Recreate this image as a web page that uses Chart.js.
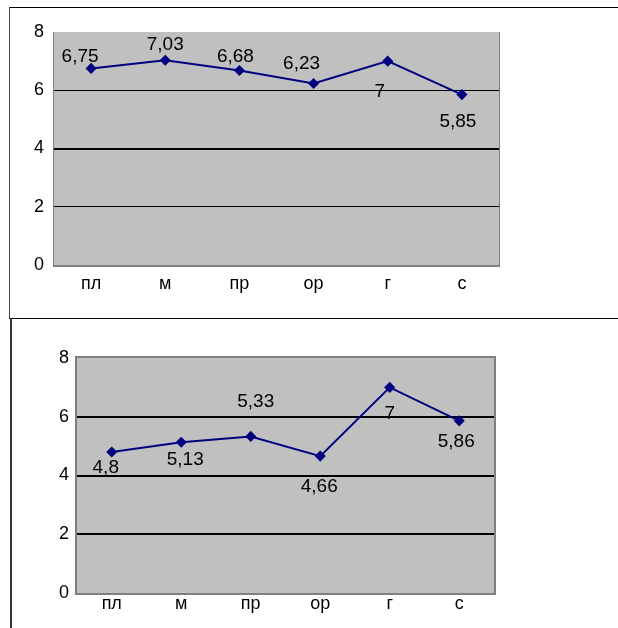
<!DOCTYPE html>
<html>
<head>
<meta charset="utf-8">
<script src="https://cdn.jsdelivr.net/npm/chart.js@4/dist/chart.umd.min.js"></script>
<style>
  html, body { margin: 0; padding: 0; background: #fff; width: 618px; height: 628px; overflow: hidden; }
  .frame { position: absolute; box-sizing: border-box; }
  #f1 { left: 9px; top: 7px; width: 700px; height: 312px; border-top: 1px solid #000; border-left: 1px solid #444; border-bottom: 1px solid #000; }
  #f2 { left: 10px; top: 318px; width: 700px; height: 400px; border-left: 2px solid #333; }
  canvas { position: absolute; left: 0; }
  #c1 { top: 0; }
  #c2 { top: 318px; }
</style>
</head>
<body>
<div class="frame" id="f1"></div>
<div class="frame" id="f2"></div>
<canvas id="c1" width="618" height="318"></canvas>
<canvas id="c2" width="618" height="310"></canvas>
<script>
// ---- data ----
const categories = ['пл', 'м', 'пр', 'ор', 'г', 'с'];
const valuesTop = [6.75, 7.03, 6.68, 6.23, 7, 5.85];
const valuesBottom = [4.8, 5.13, 5.33, 4.66, 7, 5.86];
const yTicks = [0, 2, 4, 6, 8];

// ---- label placement (style only) ----
const labelOffsetsTop = [[-11, -12], [0, -15], [-4, -14], [-12, -20], [-8, 31], [-4, 27]];
const labelOffsetsBottom = [[-6, 16], [4, 17], [5, -35], [-1, 31], [0, 26], [-3, 21]];

const plotFrame = {
  id: 'plotFrame',
  beforeDraw(chart, args, opts) {
    const { ctx, chartArea: a } = chart;
    ctx.save();
    ctx.fillStyle = opts.fill;
    ctx.fillRect(a.left, a.top, a.right - a.left, a.bottom - a.top);
    ctx.restore();
  },
  beforeDatasetsDraw(chart, args, opts) {
    const { ctx, chartArea: a } = chart;
    ctx.save();
    ctx.strokeStyle = opts.color;
    (opts.sides || []).forEach(([side, w]) => {
      ctx.lineWidth = w;
      ctx.beginPath();
      const h = w / 2;
      if (side === 'left') { ctx.moveTo(a.left - h, a.top - (opts.topW || 0)); ctx.lineTo(a.left - h, a.bottom + 2); }
      if (side === 'right') { ctx.moveTo(a.right + h, a.top - (opts.topW || 0)); ctx.lineTo(a.right + h, a.bottom + 2); }
      if (side === 'top') { ctx.moveTo(a.left - 1, a.top - h); ctx.lineTo(a.right + 1, a.top - h); }
      if (side === 'bottom') { ctx.moveTo(a.left - 1, a.bottom + h); ctx.lineTo(a.right + 1, a.bottom + h); }
      ctx.stroke();
    });
    ctx.restore();
  }
};

const valueLabels = {
  id: 'valueLabels',
  afterDatasetsDraw(chart, args, opts) {
    const { ctx } = chart;
    const meta = chart.getDatasetMeta(0);
    const data = chart.data.datasets[0].data;
    ctx.save();
    ctx.fillStyle = '#000';
    ctx.font = opts.font;
    ctx.textAlign = 'center';
    ctx.textBaseline = 'middle';
    meta.data.forEach((pt, i) => {
      const [dx, dy] = opts.offsets[i];
      ctx.fillText(String(data[i]).replace('.', ','), pt.x + dx, pt.y + dy);
    });
    ctx.restore();
  }
};

function makeChart(id, values, cfg) {
  return new Chart(document.getElementById(id), {
    type: 'line',
    data: {
      labels: categories,
      datasets: [{
        data: values,
        borderColor: '#000080',
        backgroundColor: '#000080',
        borderWidth: 2,
        tension: 0,
        pointStyle: 'rectRot',
        pointRadius: 4.5,
        pointBorderWidth: 1.5,
        pointBackgroundColor: '#000080',
        pointBorderColor: '#000080'
      }]
    },
    options: {
      responsive: false,
      animation: false,
      devicePixelRatio: 1,
      layout: { padding: { left: 0, top: cfg.top, right: cfg.right, bottom: 0 } },
      plugins: {
        legend: { display: false },
        tooltip: { enabled: false },
        plotFrame: cfg.frame,
        valueLabels: { offsets: cfg.offsets, font: '19px "Liberation Sans", Arial, sans-serif' }
      },
      scales: {
        x: {
          offset: true,
          grid: { display: false, drawTicks: false },
          border: { display: false },
          ticks: { color: '#000', padding: cfg.xPad, font: { family: '"Liberation Sans", Arial, sans-serif', size: 18 } },
          afterFit(s) { s.height = cfg.xHeight; }
        },
        y: {
          min: 0, max: 8,
          afterBuildTicks(s) { s.ticks = yTicks.map(v => ({ value: v })); },
          grid: {
            drawTicks: false,
            color: c => (c.tick && (c.tick.value === 0 || c.tick.value === 8)) ? 'rgba(0,0,0,0)' : '#000',
            lineWidth: c => cfg.gridW(c.tick ? c.tick.value : 0)
          },
          border: { display: false },
          ticks: { color: '#000', padding: cfg.yPad, font: { family: '"Liberation Sans", Arial, sans-serif', size: 18 } },
          afterFit(s) { s.width = cfg.yWidth; }
        }
      }
    },
    plugins: [plotFrame, valueLabels]
  });
}

makeChart('c1', valuesTop, {
  top: 32, right: 119, xHeight: 53, yWidth: 54, xPad: 8, yPad: 10,
  offsets: labelOffsetsTop,
  gridW: v => (v === 4 ? 2 : 1),
  frame: { fill: '#c0c0c0', color: '#808080', sides: [['left', 1], ['right', 1], ['bottom', 2]] }
});

makeChart('c2', valuesBottom, {
  top: 40, right: 124, xHeight: 35, yWidth: 77, xPad: 0, yPad: 8,
  offsets: labelOffsetsBottom,
  gridW: v => 2,
  frame: { fill: '#c0c0c0', color: '#808080', topW: 2, sides: [['left', 2], ['right', 2], ['top', 2], ['bottom', 2]] }
});
</script>
</body>
</html>
